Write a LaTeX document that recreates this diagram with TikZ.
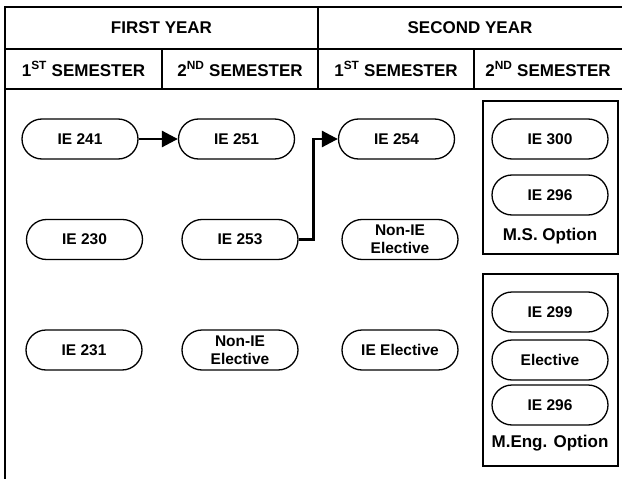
\documentclass[tikz,border=0pt]{standalone}
\usepackage{fontspec}
\setmainfont{Liberation Sans}
\usetikzlibrary{arrows.meta}
\tikzstyle{course}=[
    draw,
    line width = 1.3pt,
    rounded corners = 20pt,
    minimum width = 116pt,
    minimum height = 40pt,
    inner sep = 0pt,
    align = center,
    font = \fontsize{15.5}{18}\selectfont\bfseries
]
\tikzstyle{head}=[font = \fontsize{17}{20}\selectfont\bfseries]
\tikzstyle{option box}=[draw, line width = 1.3pt, inner sep = 0pt]
\tikzstyle{flow}=[line width = 2.8pt, -{Triangle[length=16pt, width=16pt]}]

\begin{document}
\begin{tikzpicture}[x=1pt, y=-1pt]
        \useasboundingbox (0,0) rectangle (622,479);

        % table frame
        \draw[line width=2pt] (5,479) -- (5,7) -- (622,7);
        \draw[line width=2pt] (5,49) -- (622,49);
        \draw[line width=2pt] (5,89) -- (622,89);
        \draw[line width=2pt] (318,7) -- (318,89);
        \draw[line width=2pt] (162,49) -- (162,89);
        \draw[line width=2pt] (474,49) -- (474,89);

        \node[head] (y1) at (161.5,28) {FIRST YEAR};
        \node[head] (y2) at (470,28) {SECOND YEAR};
        \node[head] (s1) at (83.5,69) {1\textsuperscript{ST} SEMESTER};
        \node[head] (s2) at (240,69) {2\textsuperscript{ND} SEMESTER};
        \node[head] (s3) at (396,69) {1\textsuperscript{ST} SEMESTER};
        \node[head] (s4) at (548,69) {2\textsuperscript{ND} SEMESTER};

        % first year
        \node[course] (241) at (80,139) {IE 241};
        \node[course] (230) at (84.5,239.5) {IE 230};
        \node[course] (231) at (84,350) {IE 231};
        \node[course] (251) at (236.5,139) {IE 251};
        \node[course] (253) at (240,239.5) {IE 253};
        \node[course] (nie1) at (240,350) {Non-IE\\Elective};

        % second year
        \node[course] (254) at (396.5,139) {IE 254};
        \node[course] (nie2) at (400,239.5) {Non-IE\\Elective};
        \node[course] (iee) at (400,350) {IE Elective};

        \node[option box, minimum width=135pt, minimum height=153pt] (ms) at (550.5,177.5) {};
        \node[course] (300) at (550,139) {IE 300};
        \node[course] (296a) at (550,195) {IE 296};
        \node[head] (msl) at (550,236) {M.S. Option};

        \node[option box, minimum width=135pt, minimum height=192pt] (meng) at (550.5,370) {};
        \node[course] (299) at (550,312) {IE 299};
        \node[course] (el) at (550,360) {Elective};
        \node[course] (296b) at (550,405) {IE 296};
        \node[head] (mengl) at (550,443) {M.Eng. Option};

        \draw[flow] (241) -- (251);
        \draw[flow] (253.east) -- ++(15,0) |- (254.west);

    \end{tikzpicture}
\end{document}
